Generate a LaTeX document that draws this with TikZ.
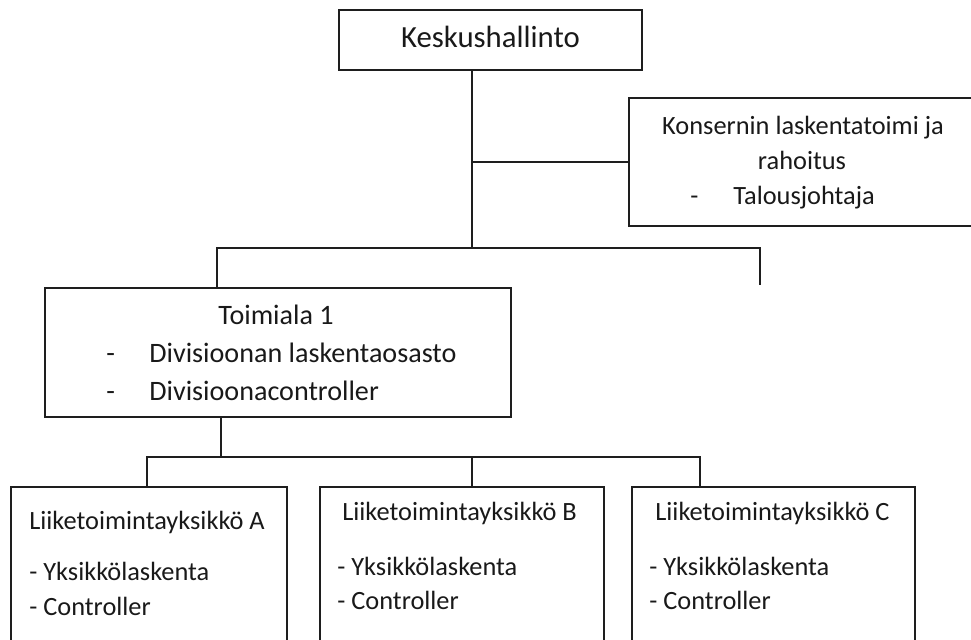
\documentclass[tikz,border=0pt]{standalone}
\usepackage{xcolor}
\usepackage{fontspec}
\setmainfont{Carlito}
\usepackage{tikz}
\usetikzlibrary{positioning, calc}
\definecolor{boxline}{RGB}{30, 30, 30}
\definecolor{boxtext}{RGB}{25, 25, 25}

\tikzset{
    orgbox/.style={draw=boxline, line width=1.1pt, inner sep=0pt},
    orgtext/.style={text=boxtext, inner sep=0pt, text height=11pt, text depth=3pt, font=\fontsize{15}{18}\selectfont},
    orglink/.style={draw=boxline, line width=0.9pt}
}

\begin{document}
\begin{tikzpicture}
    \useasboundingbox (0,0) rectangle (19.42,12.78);
    \clip (0,0) rectangle (19.42,12.78);

    % Top level
    \node[orgbox, orgtext, font=\fontsize{17.5}{21}\selectfont, minimum width=6.06cm, minimum height=1.2cm] (keskus) at (9.81,11.98) {Keskushallinto};

    \node[orgbox, minimum width=7.1cm, minimum height=2.56cm] (konserni) at (16.13,9.54) {};
    \node[orgtext] (konsernitxt) at (16.06,10.24) {Konsernin laskentatoimi ja};
    \node[orgtext] (rahoitus) at (16.04,9.54) {rahoitus};
    \node[orgtext, anchor=west] (konsernidash) at (13.80,8.84) {-};
    \node[orgtext, anchor=west] (talous) at (14.66,8.84) {Talousjohtaja};

    % Division
    \node[orgbox, minimum width=9.32cm, minimum height=2.58cm] (toimiala) at (5.56,5.73) {};
    \node[orgtext, font=\fontsize{16}{19}\selectfont] (toimialatxt) at (5.52,6.44) {Toimiala 1};
    \node[orgtext, font=\fontsize{16}{19}\selectfont, anchor=west] (divdash1) at (2.12,5.68) {-};
    \node[orgtext, font=\fontsize{16}{19}\selectfont, anchor=west] (divlask) at (2.98,5.68) {Divisioonan laskentaosasto};
    \node[orgtext, font=\fontsize{16}{19}\selectfont, anchor=west] (divdash2) at (2.12,4.92) {-};
    \node[orgtext, font=\fontsize{16}{19}\selectfont, anchor=west] (divcontr) at (2.98,4.92) {Divisioonacontroller};

    % Business units
    \node[orgbox, minimum width=5.52cm, minimum height=3.64cm] (yksA) at (2.98,1.22) {};
    \node[orgtext, anchor=west] (titleA) at (0.58,2.34) {Liiketoimintayksikkö A};
    \node[orgtext, anchor=west] (laskA) at (0.58,1.32) {- Yksikkölaskenta};
    \node[orgtext, anchor=west] (contrA) at (0.58,0.62) {- Controller};

    \node[orgbox, minimum width=5.68cm, minimum height=3.64cm] (yksB) at (9.24,1.22) {};
    \node[orgtext, anchor=west] (titleB) at (6.84,2.52) {Liiketoimintayksikkö B};
    \node[orgtext, anchor=west] (laskB) at (6.74,1.42) {- Yksikkölaskenta};
    \node[orgtext, anchor=west] (contrB) at (6.74,0.74) {- Controller};

    \node[orgbox, minimum width=5.66cm, minimum height=3.64cm] (yksC) at (15.47,1.22) {};
    \node[orgtext, anchor=west] (titleC) at (13.10,2.52) {Liiketoimintayksikkö C};
    \node[orgtext, anchor=west] (laskC) at (12.98,1.42) {- Yksikkölaskenta};
    \node[orgtext, anchor=west] (contrC) at (12.98,0.74) {- Controller};

    % Connectors
    \coordinate (topbus) at (9.44,7.82);
    \coordinate (busleft) at (4.34,7.82);
    \coordinate (busright) at (15.2,7.82);
    \coordinate (openend) at (15.2,7.08);
    \draw[orglink] (keskus.south -| topbus) -- (topbus);
    \draw[orglink] (konserni.west) -- (konserni.west -| topbus);
    \draw[orglink] (toimiala.north -| busleft) -- (busleft) -- (busright) -- (openend);

    \coordinate (lowtap) at (4.42,3.64);
    \coordinate (lowleft) at (2.94,3.64);
    \coordinate (lowmid) at (9.44,3.64);
    \coordinate (lowright) at (14.0,3.64);
    \draw[orglink] (toimiala.south -| lowtap) -- (lowtap);
    \draw[orglink] (yksA.north -| lowleft) -- (lowleft) -- (lowright) -- (yksC.north -| lowright);
    \draw[orglink] (lowmid) -- (yksB.north -| lowmid);
\end{tikzpicture}
\end{document}
